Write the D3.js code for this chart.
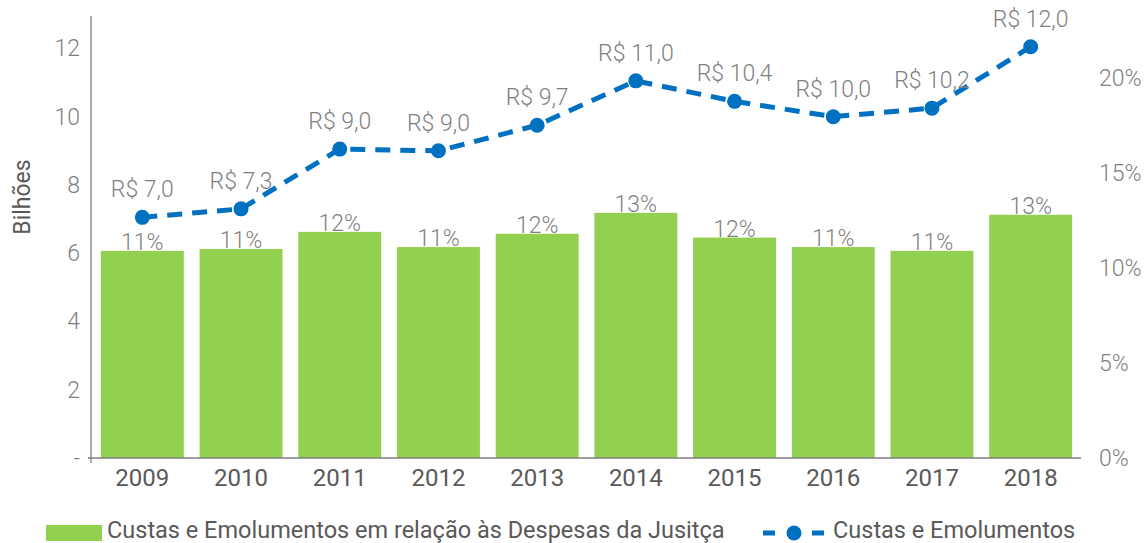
<!DOCTYPE html>
<html>
<head>
<meta charset="utf-8">
<script src="https://cdn.jsdelivr.net/npm/d3@7"></script>
<style>
    body { margin: 0; background: #fff; }
    text { font-family: "Roboto", "Open Sans", sans-serif; }
</style>
</head>
<body>
<div id="chart"></div>
<script>
// data
let years = ["2009", "2010", "2011", "2012", "2013", "2014", "2015", "2016", "2017", "2018"];
let shareOfExpenses = [0.109, 0.110, 0.119, 0.111, 0.118, 0.129, 0.116, 0.111, 0.109, 0.128];
let shareLabels = ["11%", "11%", "12%", "11%", "12%", "13%", "12%", "11%", "11%", "13%"];
let custas = [7.05, 7.3, 9.05, 9.0, 9.75, 11.05, 10.45, 10.0, 10.25, 12.05];
let custasLabels = ["R$ 7,0", "R$ 7,3", "R$ 9,0", "R$ 9,0", "R$ 9,7", "R$ 11,0", "R$ 10,4", "R$ 10,0", "R$ 10,2", "R$ 12,0"];
let leftTicks = [0, 2, 4, 6, 8, 10, 12];
let rightTicks = [0, 0.05, 0.10, 0.15, 0.20];

let width = 1147, height = 543;
let margin = {top: 16, right: 65, bottom: 85, left: 91};
let innerW = width - margin.left - margin.right;
let innerH = height - margin.top - margin.bottom;
let fs = 23;

let svg = d3.select("#chart").append("svg")
    .attr("width", width)
    .attr("height", height);

let g = svg.append("g")
    .attr("transform", "translate(" + margin.left + "," + margin.top + ")");

// Scales
let x = d3.scaleBand()
    .domain(years)
    .range([0, innerW])
    .paddingInner(0.16)
    .paddingOuter(0.1);

let yLeft = d3.scaleLinear()
    .domain([0, 12.95])
    .range([innerH, 0]);

let yRight = d3.scaleLinear()
    .domain([0, 0.2326])
    .range([innerH, 0]);

// Bars
g.selectAll("rect.bar")
    .data(shareOfExpenses)
    .enter().append("rect")
    .attr("class", "bar")
    .attr("x", (d, i) => x(years[i]))
    .attr("y", d => yRight(d))
    .attr("width", x.bandwidth())
    .attr("height", d => innerH - yRight(d))
    .attr("fill", "#92D050");

// bar labels
g.selectAll("text.barlabel")
    .data(shareOfExpenses)
    .enter().append("text")
    .attr("class", "barlabel")
    .attr("x", (d, i) => x(years[i]) + x.bandwidth() / 2)
    .attr("y", d => yRight(d) - 1)
    .attr("text-anchor", "middle")
    .attr("fill", "#7f7f7f")
    .attr("font-size", fs)
    .attr("font-weight", 300)
    .text((d, i) => shareLabels[i]);

// Axes
let xAxis = d3.axisBottom(x).tickSize(0).tickPadding(11);
let gx = g.append("g")
    .attr("transform", "translate(0," + innerH + ")")
    .call(xAxis);
gx.select(".domain").attr("d", "M-3,0H" + (innerW - 1)).attr("stroke", "#7f7f7f").attr("stroke-width", 1.3);
gx.selectAll("text")
    .attr("font-size", 24)
    .attr("fill", "#595959")
    .attr("font-family", "Roboto, sans-serif");

let yAxisLeft = d3.axisLeft(yLeft)
    .tickValues(leftTicks)
    .tickSize(0)
    .tickPadding(11)
    .tickFormat(d => d === 0 ? "-" : d);
let gyl = g.append("g").call(yAxisLeft);
gyl.select(".domain").attr("d", "M0,0V" + (innerH + 5)).attr("stroke", "#7f7f7f").attr("stroke-width", 1.3);
gyl.selectAll("text")
    .attr("font-size", fs)
    .attr("fill", "#7f7f7f")
    .attr("font-weight", 300)
    .attr("font-family", "Roboto, sans-serif");

let yAxisRight = d3.axisRight(yRight)
    .tickValues(rightTicks)
    .tickSize(0)
    .tickPadding(17)
    .tickFormat(d3.format(".0%"));
let gyr = g.append("g")
    .attr("transform", "translate(" + innerW + ",0)")
    .call(yAxisRight);
gyr.select(".domain").remove();
gyr.selectAll("text")
    .attr("font-size", fs)
    .attr("fill", "#7f7f7f")
    .attr("font-weight", 300)
    .attr("font-family", "Roboto, sans-serif");

// Y axis label
g.append("text")
    .attr("transform", "rotate(-90)")
    .attr("x", -181)
    .attr("y", -61)
    .attr("text-anchor", "middle")
    .attr("font-size", fs)
    .attr("fill", "#595959")
    .text("Bilhões");

// Line
let line = d3.line()
    .x((d, i) => x(years[i]) + x.bandwidth() / 2)
    .y(d => yLeft(d));

g.append("path")
    .datum(custas)
    .attr("d", line)
    .attr("fill", "none")
    .attr("stroke", "#0070C0")
    .attr("stroke-width", 5)
    .attr("stroke-dasharray", "15,10");

g.selectAll("circle.pt")
    .data(custas)
    .enter().append("circle")
    .attr("class", "pt")
    .attr("cx", (d, i) => x(years[i]) + x.bandwidth() / 2)
    .attr("cy", d => yLeft(d))
    .attr("r", 7.5)
    .attr("fill", "#0070C0");

g.selectAll("text.ptlabel")
    .data(custas)
    .enter().append("text")
    .attr("class", "ptlabel")
    .attr("x", (d, i) => x(years[i]) + x.bandwidth() / 2)
    .attr("y", d => yLeft(d) - 20)
    .attr("text-anchor", "middle")
    .attr("fill", "#7f7f7f")
    .attr("font-size", fs)
    .attr("font-weight", 300)
    .text((d, i) => custasLabels[i]);

// Legend
let legend = svg.append("g");
legend.append("rect")
    .attr("x", 46).attr("y", 525)
    .attr("width", 56).attr("height", 16)
    .attr("fill", "#92D050");
legend.append("text")
    .attr("x", 107).attr("y", 538)
    .attr("font-size", 23.5)
    .attr("fill", "#595959")
    .text("Custas e Emolumentos em relação às Despesas da Jusitça");
legend.append("line")
    .attr("x1", 763).attr("x2", 824)
    .attr("y1", 533).attr("y2", 533)
    .attr("stroke", "#0070C0")
    .attr("stroke-width", 5)
    .attr("stroke-dasharray", "12,37,12");
legend.append("circle")
    .attr("cx", 794).attr("cy", 533)
    .attr("r", 7.5)
    .attr("fill", "#0070C0");
legend.append("text")
    .attr("x", 833).attr("y", 538)
    .attr("font-size", 23.5)
    .attr("fill", "#595959")
    .text("Custas e Emolumentos");
</script>
</body>
</html>
